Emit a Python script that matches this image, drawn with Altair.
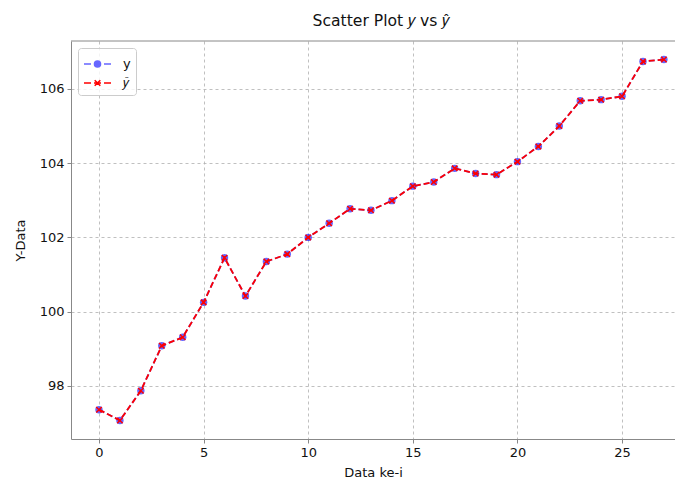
import altair as alt
import pandas as pd

index = list(range(28))
y_values = [97.36, 97.07, 97.87, 99.08, 99.31, 100.25, 101.45, 100.42, 101.35, 101.55,
            102.00, 102.38, 102.77, 102.73, 102.99, 103.38, 103.49, 103.86, 103.72, 103.69,
            104.04, 104.45, 105.00, 105.68, 105.71, 105.80, 106.74, 106.79]
y_hat_values = [97.36, 97.07, 97.87, 99.08, 99.31, 100.25, 101.45, 100.42, 101.35, 101.55,
                102.00, 102.38, 102.77, 102.73, 102.99, 103.38, 103.49, 103.86, 103.72, 103.69,
                104.04, 104.45, 105.00, 105.68, 105.71, 105.80, 106.74, 106.79]
series_names = ["y", "\U0001D466\u0302"]
x_ticks = [0, 5, 10, 15, 20, 25]
y_ticks = [98, 100, 102, 104, 106]

BLUE = "#0000ff"
BLUE_LEG = "#6666ff"
RED = "#ff0000"
FONT = "DejaVu Sans"

df_y = pd.DataFrame({"i": index, "v": y_values, "series": series_names[0]})
df_h = pd.DataFrame({"i": index, "v": y_hat_values, "series": series_names[1]})
df_all = pd.concat([df_y, df_h], ignore_index=True)

x_enc = alt.X("i:Q", scale=alt.Scale(domain=[-1.338, 27.53], nice=False, zero=False),
              axis=alt.Axis(values=x_ticks, title="Data ke-i", titlePadding=7, format="d"))
y_enc = alt.Y("v:Q", scale=alt.Scale(domain=[96.57, 107.29], nice=False, zero=False),
              axis=alt.Axis(values=y_ticks, title="Y-Data", titlePadding=12, format="d"))

X_PATH = "M-1,-1L1,1M-1,1L1,-1"

blue_line = alt.Chart(df_y).mark_line(color=BLUE, opacity=0.6, strokeDash=[6, 3], strokeWidth=1.8).encode(x=x_enc, y=y_enc)
blue_pts = alt.Chart(df_y).mark_point(shape="circle", filled=True, color=BLUE, opacity=0.6, size=55).encode(x="i:Q", y="v:Q")
red_line = alt.Chart(df_h).mark_line(color=RED, strokeDash=[6, 3], strokeWidth=1.8).encode(x="i:Q", y="v:Q")
red_pts = alt.Chart(df_h).mark_point(shape=X_PATH, filled=False, color=RED, size=30, strokeWidth=1.5, opacity=1).encode(x="i:Q", y="v:Q")

leg_y = ("M-1.0,0L-0.3,0M0.0,0L0.7,0M1.0,0L1.7,0"
         "M0.65,0A0.3,0.3 0 1,1 0.05,0A0.3,0.3 0 1,1 0.65,0Z")
leg_h = ("M-1.0,0L-0.3,0M0.0,0L0.7,0M1.0,0L1.7,0"
         "M0.07,-0.28L0.63,0.28M0.07,0.28L0.63,-0.28")

legend = alt.Legend(title=None, orient="none", legendX=7, legendY=7, symbolSize=400,
                    symbolStrokeWidth=1.6, symbolOpacity=1, labelOffset=18, rowPadding=1,
                    padding=5, strokeColor="#cccccc", fillColor="rgba(255,255,255,0.8)",
                    cornerRadius=3, labelFontSize=13, labelFont=FONT, labelColor="#111111")

legend_layer = alt.Chart(df_all).mark_point(filled=True, opacity=0, size=1).encode(
    x="i:Q", y="v:Q",
    fill=alt.Fill("series:N", scale=alt.Scale(domain=series_names, range=[BLUE_LEG, RED]), legend=legend),
    stroke=alt.Stroke("series:N", scale=alt.Scale(domain=series_names, range=[BLUE_LEG, RED]), legend=legend),
    shape=alt.Shape("series:N", scale=alt.Scale(domain=series_names, range=[leg_y, leg_h]), legend=legend),
)

top_spine = alt.Chart(pd.DataFrame({"k": [0]})).mark_rule(color="#888888", strokeWidth=1).encode(y=alt.value(0))

chart = alt.layer(blue_line, blue_pts, red_line, red_pts, legend_layer, top_spine).properties(
    width=604, height=398,
    background="white",
    autosize=alt.AutoSizeParams(type="none"),
    padding={"left": 63, "top": 33, "right": 0, "bottom": 41},
    title=alt.TitleParams(text="Scatter Plot \U0001D466 vs \U0001D466\u0302", fontSize=15.6, font=FONT,
                          fontWeight="normal", color="#111111", anchor="middle", dx=8,
                          baseline="alphabetic", offset=-1),
).configure_view(stroke=None).configure_axis(
    grid=True, gridDash=[3, 3], gridColor="#b0b0b0", gridWidth=0.8,
    domainColor="#888888", tickColor="#888888", tickSize=4, labelPadding=3,
    labelFont=FONT, titleFont=FONT, labelFontSize=13, titleFontSize=13,
    titleFontWeight="normal", labelColor="#111111", titleColor="#111111",
)

chart.save("out.html", embed_options={"renderer": "svg", "actions": False})
